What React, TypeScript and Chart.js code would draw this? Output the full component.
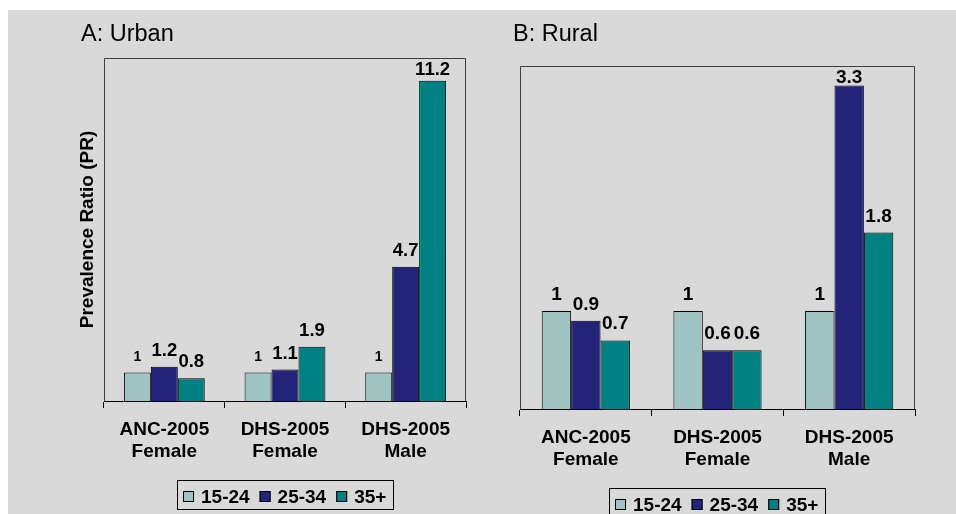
import React, { useEffect, useRef } from "react";
import { Chart, registerables } from "chart.js";

Chart.register(...registerables);

// ---- data ----
const categories: string[][] = [
  ["ANC-2005", "Female"],
  ["DHS-2005", "Female"],
  ["DHS-2005", "Male"],
];
const seriesNames = ["15-24", "25-34", "35+"];
const urban15to24 = [1, 1, 1];
const urban25to34 = [1.2, 1.1, 4.7];
const urban35plus = [0.8, 1.9, 11.2];
const rural15to24 = [1, 1, 1];
const rural25to34 = [0.9, 0.6, 3.3];
const rural35plus = [0.7, 0.6, 1.8];
const urbanTitle = "A: Urban";
const ruralTitle = "B: Rural";
const yAxisTitle = "Prevalence Ratio (PR)";

const seriesColors = ["#a0c4c4", "#23237a", "#008080"];
const FONT = "'Liberation Sans', Arial, Helvetica, sans-serif";

type PanelCfg = {
  title: string;
  titleX: number;
  titleY: number;
  yTitle?: string;
  yTitleX?: number;
  oneSize: number;
  labelSize: number;
};

function makePlugin(cfg: PanelCfg) {
  return {
    id: "panelDecor",
    afterDraw(chart: any) {
      const { ctx, chartArea: a } = chart;
      ctx.save();
      // plot box (left, top, right)
      ctx.strokeStyle = "#404040";
      ctx.lineWidth = 1;
      const L = Math.round(a.left) + 0.5;
      const R = Math.round(a.right) - 0.5;
      const T = Math.round(a.top) + 0.5;
      const B = Math.round(a.bottom);
      ctx.beginPath();
      ctx.moveTo(L, B);
      ctx.lineTo(L, T);
      ctx.lineTo(R, T);
      ctx.lineTo(R, B);
      ctx.stroke();

      // value labels
      chart.data.datasets.forEach((ds: any, di: number) => {
        const meta = chart.getDatasetMeta(di);
        meta.data.forEach((el: any, i: number) => {
          const v = ds.data[i];
          const size = v === 1 ? cfg.oneSize : cfg.labelSize;
          ctx.font = `bold ${size}px ${FONT}`;
          ctx.textAlign = "center";
          ctx.textBaseline = "alphabetic";
          ctx.fillStyle = "#000";
          const cap = size * 0.72;
          let y = el.y - 11;
          if (y - cap < a.top + 3.5) y = a.top + 3.5 + cap;
          ctx.fillText(String(v), el.x, y);
        });
      });

      // panel title
      ctx.font = `23.5px ${FONT}`;
      ctx.textAlign = "left";
      ctx.textBaseline = "alphabetic";
      ctx.fillStyle = "#000";
      ctx.fillText(cfg.title, cfg.titleX, cfg.titleY);

      // y axis title
      if (cfg.yTitle) {
        ctx.save();
        ctx.translate(cfg.yTitleX || 0, (a.top + a.bottom) / 2);
        ctx.rotate(-Math.PI / 2);
        ctx.font = `bold 19px ${FONT}`;
        ctx.textAlign = "center";
        ctx.textBaseline = "middle";
        ctx.fillText(cfg.yTitle, 0, 0);
        ctx.restore();
      }

      // legend
      ctx.font = `bold 19px ${FONT}`;
      const names = chart.data.datasets.map((d: any) => d.label as string);
      const widths = names.map((n: string) => ctx.measureText(n).width);
      const sw = 11, g1 = 7, g2 = 10, padL = 6, padR = 7, bh = 29;
      const total =
        padL + names.length * (sw + g1) + widths.reduce((s: number, w: number) => s + w, 0) + (names.length - 1) * g2 + padR;
      const bx = Math.round((a.left + a.right) / 2 - total / 2);
      const by = Math.round(a.bottom + 79);
      ctx.strokeStyle = "#000";
      ctx.lineWidth = 1;
      ctx.strokeRect(bx + 0.5, by + 0.5, Math.round(total), bh);
      let x = bx + padL;
      names.forEach((n: string, i: number) => {
        ctx.fillStyle = chart.data.datasets[i].backgroundColor;
        ctx.fillRect(x, by + 11, sw, sw);
        ctx.strokeStyle = "#000";
        ctx.strokeRect(x + 0.5, by + 11.5, sw - 1, sw - 1);
        x += sw + g1;
        ctx.fillStyle = "#000";
        ctx.textAlign = "left";
        ctx.textBaseline = "alphabetic";
        ctx.fillText(n, x, by + 23.3);
        x += widths[i] + g2;
      });
      ctx.restore();
    },
  };
}

type PanelProps = {
  left: number;
  top: number;
  width: number;
  height: number;
  padding: { left: number; right: number; top: number; bottom: number };
  yMax: number;
  series: number[][];
  cfg: PanelCfg;
};

function Panel(props: PanelProps) {
  const ref = useRef<HTMLCanvasElement | null>(null);
  useEffect(() => {
    if (!ref.current) return;
    const chart = new Chart(ref.current, {
      type: "bar",
      data: {
        labels: categories as any,
        datasets: props.series.map((vals, i) => ({
          label: seriesNames[i],
          data: vals,
          backgroundColor: seriesColors[i],
          borderColor: "#000",
          borderWidth: 1,
          categoryPercentage: 0.67,
          barPercentage: 1,
        })),
      },
      options: {
        responsive: false,
        animation: false,
        devicePixelRatio: 1,
        layout: { padding: props.padding },
        plugins: {
          legend: { display: false },
          title: { display: false },
          tooltip: { enabled: false },
        },
        scales: {
          x: {
            grid: {
              display: true,
              drawOnChartArea: false,
              drawTicks: true,
              tickLength: 7,
              color: "#000",
              lineWidth: 1,
              offset: true,
            },
            border: { display: true, color: "#000", width: 1 },
            ticks: {
              color: "#000",
              font: { family: FONT, size: 19, weight: "bold", lineHeight: 22 / 19 },
              padding: 11,
              maxRotation: 0,
              autoSkip: false,
            },
            afterFit: (s: any) => {
              s.height = 60;
            },
          },
          y: {
            display: false,
            min: 0,
            max: props.yMax,
          },
        },
      } as any,
      plugins: [makePlugin(props.cfg)],
    });
    return () => chart.destroy();
  }, []);
  return (
    <canvas
      ref={ref}
      width={props.width}
      height={props.height}
      style={{
        position: "absolute",
        left: props.left,
        top: props.top,
        width: props.width,
        height: props.height,
      }}
    />
  );
}

export default function App() {
  return (
    <div
      style={{
        position: "absolute",
        left: 0,
        top: 0,
        width: 956,
        height: 514,
        background: "#ffffff",
        overflow: "hidden",
      }}
    >
      <div
        style={{
          position: "absolute",
          left: 8,
          top: 10,
          width: 948,
          height: 504,
          background: "#d9d9d9",
        }}
      />
      <Panel
        left={8}
        top={10}
        width={472}
        height={504}
        padding={{ left: 96, right: 14, top: 48, bottom: 53 }}
        yMax={12}
        series={[urban15to24, urban25to34, urban35plus]}
        cfg={{ title: urbanTitle, titleX: 73, titleY: 30.7, yTitle: yAxisTitle, yTitleX: 80, oneSize: 14, labelSize: 18.5 }}
      />
      <Panel
        left={480}
        top={10}
        width={476}
        height={504}
        padding={{ left: 40, right: 41, top: 56, bottom: 45 }}
        yMax={3.5}
        series={[rural15to24, rural25to34, rural35plus]}
        cfg={{ title: ruralTitle, titleX: 33, titleY: 30.7, oneSize: 19, labelSize: 19 }}
      />
    </div>
  );
}
